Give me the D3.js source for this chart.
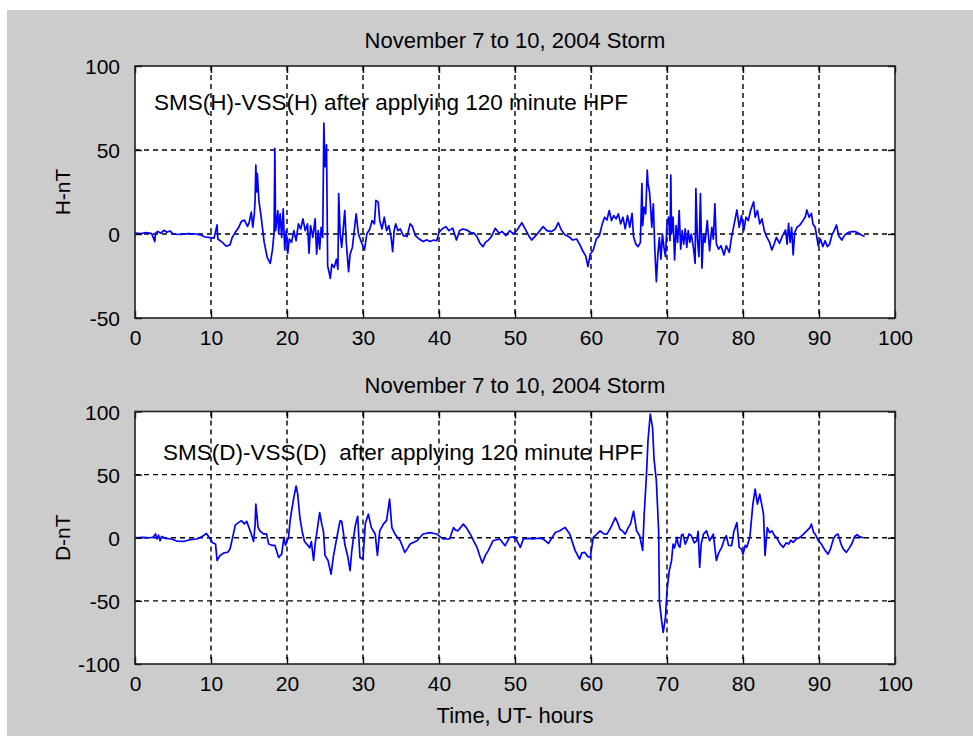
<!DOCTYPE html>
<html>
<head>
<meta charset="utf-8">
<script src="https://cdn.jsdelivr.net/npm/d3@7"></script>
<style>
  body { margin: 0; background: #fff; }
  text { font-family: Arial, "Liberation Sans", sans-serif; fill: #000; }
</style>
</head>
<body>
<div id="container"></div>
<script>
/* tamanho da figura */
const width = 973
const height = 736

// ticks e textos
const xTicks = [0, 10, 20, 30, 40, 50, 60, 70, 80, 90, 100]
const hTicks = [-50, 0, 50, 100]
const dTicks = [-100, -50, 0, 50, 100]
const titleText = "November 7 to 10, 2004 Storm"
const noteH = "SMS(H)-VSS(H) after applying 120 minute HPF"
const noteD = "SMS(D)-VSS(D)  after applying 120 minute HPF"
const xLabel = "Time, UT- hours"

// SMS(H)-VSS(H) [hora, nT]
const seriesH = [
  [0, 0.5], [0.8, 0.3], [1.5, 0.8], [2.2, 0.2], [2.6, -4.5], [2.7, 0.5], [3.0, 1.5], [3.4, 0.5], [3.8, 2.2], [4.2, 1],
  [4.6, 1.8], [5.0, 0], [6.0, -0.3], [7.0, 0.2], [8.0, 0], [8.6, -0.5], [9.2, -1.8], [9.9, -2.2], [10.4, -2.5], [10.8, 5.4],
  [10.9, -3], [11.5, -5], [12.0, -7.3], [12.5, -6.5], [12.8, -2], [13.2, 1], [13.6, 3.5], [14.0, 7.5], [14.4, 8.3], [14.8, 4.5],
  [15.0, 6.5], [15.3, 13], [15.5, 4], [15.7, 12], [15.8, 20], [15.9, 41], [16.0, 25], [16.1, 36], [16.3, 20], [16.6, 10],
  [17.0, -5], [17.4, -14], [17.8, -17.5], [18.1, -9], [18.3, 1], [18.4, 51], [18.5, 2], [18.6, 6], [18.8, 14], [18.9, 0],
  [19.1, 12], [19.3, -2], [19.5, 15], [19.7, -9.5], [19.9, 2], [20.1, -11.5], [20.3, -3], [20.6, -5], [20.9, 2], [21.2, -4],
  [21.5, 6], [21.8, 3], [22.1, 9], [22.4, 2], [22.7, 6], [22.9, -11.5], [23.1, 5], [23.4, -2], [23.7, 9], [23.9, -12],
  [24.1, 2], [24.3, -9], [24.5, 4], [24.7, -2], [24.85, 66], [25.0, 40], [25.2, 53], [25.35, -19], [25.5, -22], [25.7, -26.4],
  [25.9, -18], [26.2, -20], [26.5, -15], [26.7, -21], [26.8, 24], [27.0, 0], [27.2, -8], [27.4, 3], [27.6, 14], [27.8, -5],
  [28.1, -22.4], [28.3, -12], [28.6, -8], [28.9, 4], [29.1, 12], [29.4, 0], [29.8, -5], [30.2, -9.5], [30.5, 0], [30.9, 3],
  [31.2, 8], [31.5, 6], [31.7, 20], [32.0, 19], [32.2, 8], [32.5, 3], [32.8, 10], [33.1, 2], [33.4, 5], [33.7, -2],
  [33.9, -10.5], [34.1, 2], [34.3, 6], [34.6, 2], [34.9, 3], [35.3, -1], [35.8, -1.5], [36.2, 6], [36.5, 4.5], [36.9, -1],
  [37.4, -3], [37.9, -4.5], [38.4, -3.5], [38.8, -4.5], [39.3, -3.6], [39.7, -4], [40.0, 1], [40.4, 3], [40.9, 4.4], [41.3, 2],
  [41.8, 3.5], [42.3, -3.6], [42.7, 2], [43.1, 3], [43.6, 2.5], [44.1, 1], [44.6, 0.5], [45.0, -1.6], [45.4, -5.6], [45.8, -7.5],
  [46.1, -5], [46.5, -3.6], [46.9, -1.6], [47.4, 3.4], [47.9, 0.5], [48.3, 1.5], [48.8, -1], [49.3, 2], [49.8, 0], [50.3, 2.5],
  [50.9, 6.7], [51.3, 3.4], [51.8, -1], [52.2, -3.6], [52.6, -1.6], [53.1, 1], [53.7, 4.4], [54.2, 2], [54.8, 1.4], [55.3, 3],
  [55.7, 6.7], [56.1, 2.4], [56.6, -0.6], [57.1, -1.6], [57.6, -3.6], [58.1, -3], [58.5, -6], [58.9, -10], [59.3, -13], [59.6, -19.4],
  [59.9, -12], [60.3, -9.5], [60.7, -3], [61.1, -1], [61.5, 6.3], [61.8, 10], [62.1, 8.3], [62.4, 14], [62.7, 8], [63.0, 11],
  [63.3, 9], [63.6, 12], [63.9, 6], [64.2, 10], [64.5, 3], [64.8, 11], [65.1, 4], [65.4, 12.3], [65.6, -1.6], [65.9, -6],
  [66.2, -7.5], [66.5, -5], [66.7, 30], [66.8, 5], [67.0, 16], [67.2, 12], [67.4, 38], [67.5, 30], [67.7, 25], [67.8, 19],
  [68.0, 4], [68.2, 18], [68.4, -9.5], [68.6, -28.4], [68.8, -12], [69.0, -2], [69.2, -15], [69.4, 0], [69.6, -8], [69.8, -13.5],
  [70.0, 6], [70.2, 10], [70.4, -4], [70.5, 35], [70.6, 0], [70.8, 10], [71.0, -15.5], [71.2, 5], [71.4, -5], [71.6, 14],
  [71.8, -9], [72.0, 2], [72.2, -6], [72.4, 3], [72.6, -8], [72.8, 2], [73.0, -5], [73.2, 0], [73.5, -9], [73.7, -17.5],
  [73.8, 27], [74.0, -3], [74.2, -13.5], [74.4, 24], [74.6, -20.4], [74.8, 0], [75.0, -5], [75.3, 8], [75.6, -10], [75.9, 4],
  [76.1, -3], [76.3, 18], [76.5, -6], [76.8, -9], [77.1, -7], [77.5, -12.5], [77.8, -7], [78.2, -11], [78.5, -1.6], [78.8, 5],
  [79.2, 14.3], [79.5, 4], [79.8, 11], [80.1, 2], [80.4, 10], [80.7, 8], [81.0, 14], [81.4, 19.2], [81.6, 10], [81.9, 14],
  [82.2, 6], [82.5, 9], [82.8, 2], [83.1, -1.6], [83.5, -5], [83.8, -9.5], [84.1, -6], [84.4, -2], [84.8, -5.6], [85.2, -1],
  [85.6, 2.4], [85.8, -6], [86.0, 6.3], [86.2, -5], [86.4, 4], [86.6, -12.5], [86.8, 1], [87.1, 4], [87.5, 5.4], [87.9, 8],
  [88.2, 10.3], [88.4, 14.3], [88.7, 10], [89.0, 12.3], [89.2, 6], [89.5, 4], [89.9, -7], [90.2, -3], [90.5, -7.5], [90.8, -4],
  [91.1, -7.5], [91.4, -6], [91.7, -0.6], [92.0, 2], [92.3, 5.4], [92.6, -1], [93.0, -3.6], [93.4, -0.5], [93.8, 0.8], [94.3, 1.4],
  [94.8, 1.4], [95.2, 0.5], [95.6, -0.6], [96.0, -1.5]
]

// SMS(D)-VSS(D) [hora, nT]
const seriesD = [
  [0, 0], [1, 0.3], [2, 0], [2.4, 0.5], [2.7, 3], [2.9, -1], [3.1, 2], [3.3, -2.4], [3.5, 1], [4.0, -0.5],
  [4.8, -1], [5.5, -2.6], [6.5, -2.8], [7.3, -1.5], [8.1, -1], [8.7, 0.5], [9.4, 3.4], [9.8, 0], [10.2, -4], [10.6, -5],
  [10.8, -18], [11.2, -14], [11.7, -12], [12.2, -11.5], [12.5, -9], [12.8, -1], [13.2, 10], [13.6, 12], [14.0, 13.5], [14.4, 11],
  [14.7, 13], [15.0, 8], [15.3, 3], [15.6, -3], [15.8, 10], [15.9, 26.6], [16.2, 8], [16.5, 5], [16.9, 3], [17.3, 3],
  [17.6, -5], [18.0, -6], [18.4, -6], [18.9, -15.6], [19.3, -13], [19.6, 0.3], [19.8, -6], [20.2, 0.3], [20.4, 13], [20.6, 21],
  [20.9, 32], [21.2, 41], [21.4, 35], [21.7, 16], [22.0, 5], [22.3, -3], [22.6, -5], [23.0, -8], [23.2, -3], [23.5, -18],
  [23.7, -5], [23.9, 3], [24.3, 20], [24.6, 10], [24.8, 5], [25.0, -14], [25.4, -18], [25.8, -28.8], [26.1, -15], [26.4, -5],
  [26.8, 8], [27.0, 13.5], [27.2, 13], [27.4, 5], [27.6, -5], [28.0, -15], [28.3, -26], [28.5, -12], [28.7, -2], [29.0, 10],
  [29.3, 17], [29.5, -5], [29.6, -15.6], [30.0, -17], [30.3, 11], [30.7, 18.7], [31.1, 8], [31.6, 3], [31.9, -14], [32.2, 5.5],
  [32.7, 11], [33.1, 13.5], [33.5, 30.6], [33.8, 8], [34.2, 3], [34.9, -2.4], [35.2, -7], [35.5, -11.6], [35.9, -8], [36.2, -5],
  [37.1, -2.4], [37.9, 3], [38.8, 4], [39.7, 3], [40.2, 0.5], [40.6, -1], [41.4, -1], [41.9, 8], [42.2, 6], [42.5, 5.5],
  [43.2, 10.8], [43.6, 8], [44.1, 3], [44.6, -3], [45.0, -7.6], [45.4, -15], [45.7, -20], [46.1, -14], [46.5, -10], [47.1, -2.4],
  [48.0, -1], [48.7, -6.3], [49.3, 0.3], [50.0, 0.8], [50.7, -7.6], [51.1, -1], [51.8, -0.5], [52.4, -1], [53.1, -0.3], [53.7, -1],
  [54.4, -4.5], [55.3, 4.2], [55.9, 5.5], [56.6, 8.2], [57.2, 2.9], [57.9, -10], [58.5, -16.9], [58.8, -12], [59.2, -11.6], [59.6, -15],
  [59.9, -15.6], [60.3, 0.3], [60.8, 3], [61.2, 5.5], [61.7, 3], [62.1, 2.9], [62.6, 8], [63.2, 16], [63.5, 12], [63.8, 6.9],
  [64.2, 5], [64.5, 2.9], [64.9, 8], [65.2, 11], [65.6, 21], [66.0, 5.5], [66.4, 1.6], [66.8, -10], [67.0, 18.7], [67.3, 50],
  [67.5, 77], [67.8, 98], [68.1, 87], [68.3, 62], [68.6, 45], [68.9, 5.5], [69.0, -50], [69.3, -66], [69.5, -75], [69.8, -63],
  [70.0, -42], [70.3, -26], [70.6, -18], [70.8, -5], [71.0, -8], [71.3, 0.3], [71.5, -6], [71.7, -7.6], [71.9, 2], [72.1, 2.9],
  [72.4, -5], [72.6, -2.4], [72.9, 3], [73.2, 1.6], [73.6, -4], [73.9, -2.4], [74.1, 5], [74.3, -23.5], [74.5, -5], [74.8, 2.9],
  [75.2, 5.5], [75.6, -2.4], [76.1, 2.9], [76.3, -8], [76.5, -18], [76.8, -12], [77.2, -7.6], [77.5, -2], [77.8, 1.6], [78.1, -6],
  [78.5, -6.3], [78.8, 5], [79.2, 12], [79.5, -7.6], [79.8, -9], [80.0, -13], [80.3, -6], [80.5, -7.6], [80.9, 0.3], [81.3, 26.6],
  [81.6, 38.5], [81.9, 26.6], [82.2, 34.6], [82.5, 25], [82.7, 18.7], [82.9, -14], [83.2, 8], [83.5, 4], [83.8, 5.5], [84.1, 2],
  [84.4, 0.3], [84.9, -5], [85.3, -7.6], [85.7, -4], [86.0, -5], [86.3, -2], [86.6, -3.7], [87.0, -1], [87.5, 0.3], [88.0, 3],
  [88.4, 5.5], [88.8, 8], [89.0, 10.8], [89.3, 4], [89.5, 2.9], [89.9, -2], [90.3, -5], [90.8, -10], [91.2, -13], [91.5, -9],
  [91.9, -1], [92.2, 2], [92.5, 2.9], [92.9, -5], [93.2, -9], [93.6, -11.6], [94.0, -8], [94.3, -5], [94.7, 1], [95.0, 2.4],
  [95.3, 1], [95.6, 0.3], [95.9, 0]
]

/* os dois subplots (posições em px) */
const panels = [
  { data: seriesH, yDomain: [-50, 100], yTicks: hTicks, top: 66, bottom: 318, ylabel: "H-nT", note: noteH, noteX: 154, noteY: 110, titleY: 48 },
  { data: seriesD, yDomain: [-100, 100], yTicks: dTicks, top: 411.5, bottom: 664, ylabel: "D-nT", note: noteD, noteX: 163, noteY: 460, titleY: 393 }
]

const left = 135
const right = 895
const tickLen = 7

const x = d3.scaleLinear([0, 100], [left, right])

// matlab usa hífen normal, não o sinal de menos do d3
const fmt = d => String(d)

const svg = d3.create("svg")
  .attr("width", width)
  .attr("height", height)
  .attr("viewBox", [0, 0, width, height])

// fundo cinzento estilo matlab
svg.append("rect")
  .attr("x", 7).attr("y", 10)
  .attr("width", width - 7).attr("height", height - 10)
  .attr("fill", "#cccccc")

panels.forEach((p, i) => {
  const y = d3.scaleLinear(p.yDomain, [p.bottom, p.top])
  const g = svg.append("g")

  g.append("clipPath").attr("id", "clip" + i)
    .append("rect")
    .attr("x", left).attr("y", p.top)
    .attr("width", right - left).attr("height", p.bottom - p.top)

  g.append("rect")
    .attr("x", left).attr("y", p.top)
    .attr("width", right - left).attr("height", p.bottom - p.top)
    .attr("fill", "#fff")

  // texto dentro do eixo
  g.append("text")
    .attr("x", p.noteX).attr("y", p.noteY)
    .style("font-size", "22.5px")
    .style("white-space", "pre")
    .text(p.note)

  // grelha tracejada
  const grid = g.append("g")
    .attr("stroke", "#000")
    .attr("stroke-width", 1.4)
    .attr("stroke-dasharray", "5,4")
  grid.selectAll(".gx")
    .data(xTicks.slice(1, -1))
    .join("line")
    .attr("x1", d => x(d)).attr("x2", d => x(d))
    .attr("y1", p.top).attr("y2", p.bottom)
  grid.selectAll(".gy")
    .data(p.yTicks.slice(1, -1))
    .join("line")
    .attr("class", "gy")
    .attr("x1", left).attr("x2", right)
    .attr("y1", d => y(d)).attr("y2", d => y(d))

  // a série
  const line = d3.line().x(d => x(d[0])).y(d => y(d[1]))
  g.append("path")
    .datum(p.data)
    .attr("clip-path", `url(#clip${i})`)
    .attr("fill", "none")
    .attr("stroke", "#0000ff")
    .attr("stroke-width", 1.7)
    .attr("stroke-linejoin", "round")
    .attr("d", line)

  // eixos (ticks para dentro, como no matlab)
  const axB = g.append("g").attr("transform", `translate(0,${p.bottom})`)
    .call(d3.axisBottom(x).tickValues(xTicks).tickFormat(fmt).tickSizeInner(-tickLen).tickSizeOuter(0).tickPadding(12))
  const axT = g.append("g").attr("transform", `translate(0,${p.top})`)
    .call(d3.axisTop(x).tickValues(xTicks).tickSizeInner(-tickLen).tickSizeOuter(0).tickFormat(""))
  const axL = g.append("g").attr("transform", `translate(${left},0)`)
    .call(d3.axisLeft(y).tickValues(p.yTicks).tickFormat(fmt).tickSizeInner(-tickLen).tickSizeOuter(0).tickPadding(15))
  const axR = g.append("g").attr("transform", `translate(${right},0)`)
    .call(d3.axisRight(y).tickValues(p.yTicks).tickSizeInner(-tickLen).tickSizeOuter(0).tickFormat(""))

  ;[axB, axT, axL, axR].forEach(a => {
    a.select(".domain").remove()
    a.selectAll("line").attr("stroke", "#000").attr("stroke-width", 1.4)
    a.selectAll("text")
      .attr("fill", "#000")
      .style("font-family", 'Arial, "Liberation Sans", sans-serif')
      .style("font-size", "21px")
  })
  axB.selectAll("text").attr("dy", "0.71em")
  axL.selectAll("text").attr("dy", "0.36em")

  // caixa do eixo
  g.append("rect")
    .attr("x", left).attr("y", p.top)
    .attr("width", right - left).attr("height", p.bottom - p.top)
    .attr("fill", "none")
    .attr("stroke", "#222")
    .attr("stroke-width", 1.6)

  g.append("text")
    .attr("x", (left + right) / 2).attr("y", p.titleY)
    .attr("text-anchor", "middle")
    .style("font-size", "22px")
    .text(titleText)

  g.append("text")
    .attr("transform", `translate(70,${(p.top + p.bottom) / 2}) rotate(-90)`)
    .attr("text-anchor", "middle")
    .style("font-size", "21px")
    .text(p.ylabel)
})

svg.append("text")
  .attr("x", (left + right) / 2).attr("y", 723)
  .attr("text-anchor", "middle")
  .style("font-size", "22px")
  .text(xLabel)

document.getElementById("container").append(svg.node())
</script>
</body>
</html>
